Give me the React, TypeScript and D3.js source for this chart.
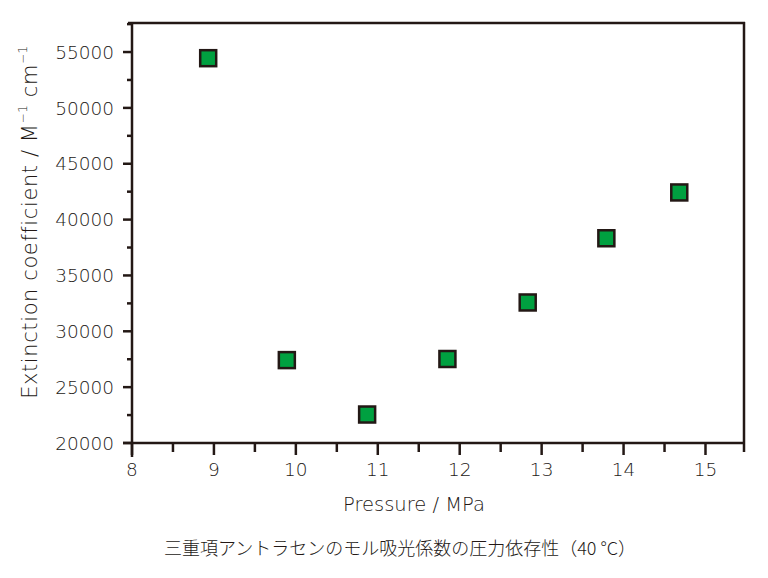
import React from "react";
import * as d3 from "d3";

const pressure = [8.93, 9.89, 10.87, 11.85, 12.83, 13.79, 14.68];
const extinction = [54450, 27420, 22550, 27520, 32580, 38330, 42430];
const xTicks = [8, 9, 10, 11, 12, 13, 14, 15];
const xMinor = [8.5, 9.5, 10.5, 11.5, 12.5, 13.5, 14.5, 15.5];
const yTicks = [20000, 25000, 30000, 35000, 40000, 45000, 50000, 55000];
const yMinor = [22500, 27500, 32500, 37500, 42500, 47500, 52500, 57500];
const xDomain = [8, 15.47];
const yDomain = [20000, 57600];

const INK = "#231815";
const TXT = "#231815";
const GREEN = "#00a040";
const LATIN = "'DejaVu Sans', sans-serif";
const CJK = "'Noto Sans CJK JP', sans-serif";

export default function App() {
  const left = 132, right = 744, top = 23, bottom = 443;
  const x = d3.scaleLinear().domain(xDomain).range([left, right]);
  const y = d3.scaleLinear().domain(yDomain).range([bottom, top]);
  const s = 16;
  return (
    <svg width={768} height={578} style={{ position: "absolute", left: 0, top: 0 }}>
      <rect width={768} height={578} fill="#fff" />
      <g stroke={INK} strokeWidth={2.5} fill="none">
        <line x1={left - 4} x2={right + 1} y1={top} y2={top} />
        <line x1={left} x2={left} y1={top - 1} y2={bottom + 14} />
        <line x1={right} x2={right} y1={top - 1} y2={bottom + 9} />
        <line x1={left - 9} x2={right + 1} y1={bottom} y2={bottom} />
        {yTicks.map((t) => (
          <line key={"ym" + t} x1={left - 9} x2={left} y1={y(t)} y2={y(t)} />
        ))}
        {yMinor.filter((t) => t <= yDomain[1]).map((t) => (
          <line key={"yn" + t} x1={left - 5} x2={left} y1={y(t)} y2={y(t)} />
        ))}
        {xTicks.map((t) => (
          <line key={"xm" + t} x1={x(t)} x2={x(t)} y1={bottom} y2={bottom + 12} />
        ))}
        {xMinor.filter((t) => t <= xDomain[1]).map((t) => (
          <line key={"xn" + t} x1={x(t)} x2={x(t)} y1={bottom} y2={bottom + 9} />
        ))}
      </g>
      <g fontFamily={LATIN} fontSize={18.5} fontWeight={200} fill={TXT}>
        {yTicks.map((t) => (
          <text key={"yl" + t} x={left - 18} y={y(t)} dy="0.36em" textAnchor="end">
            {t}
          </text>
        ))}
        {xTicks.map((t) => (
          <text key={"xl" + t} x={x(t)} y={bottom + 33} textAnchor="middle">
            {t}
          </text>
        ))}
        <text x={414} y={511} textAnchor="middle" fontSize={19.5}>
          Pressure / MPa
        </text>
        <text transform={`translate(37,${222}) rotate(-90)`} textAnchor="middle" fontSize={21} letterSpacing={0.6}>
          Extinction coefficient / M
          <tspan fontSize={12} dy={-10}>−1</tspan>
          <tspan dy={10}> cm</tspan>
          <tspan fontSize={12} dy={-10}>−1</tspan>
        </text>
      </g>
      <text x={400} y={555} textAnchor="middle" fontSize={18} fontFamily={CJK} fontWeight={300} fill={TXT}>
        三重項アントラセンのモル吸光係数の圧力依存性（40 °C）
      </text>
      <g>
        {pressure.map((p, i) => (
          <rect
            key={i}
            x={x(p) - s / 2}
            y={y(extinction[i]) - s / 2}
            width={s}
            height={s}
            fill={GREEN}
            stroke={INK}
            strokeWidth={2.5}
          />
        ))}
      </g>
    </svg>
  );
}
